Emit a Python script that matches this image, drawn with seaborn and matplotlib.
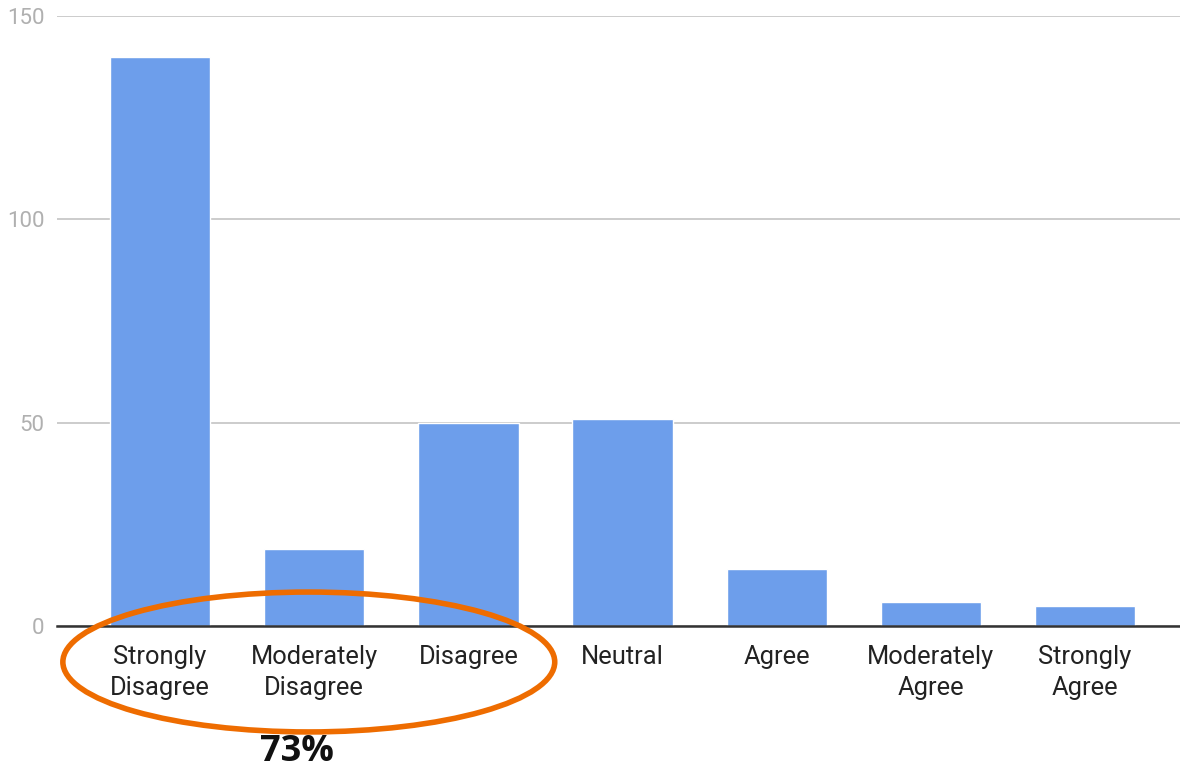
import matplotlib
matplotlib.use("Agg")
import matplotlib.pyplot as plt
from matplotlib.patches import Ellipse
import seaborn as sns
import pandas as pd

categories = ["Strongly\nDisagree", "Moderately\nDisagree", "Disagree", "Neutral",
              "Agree", "Moderately\nAgree", "Strongly\nAgree"]
responses = [140, 19, 50, 51, 14, 6, 5]
y_ticks = [0, 50, 100, 150]
highlight_text = "73%"

df = pd.DataFrame({"category": categories, "count": responses})

sns.set_theme(style="white")
plt.rcParams["font.family"] = ["Roboto", "DejaVu Sans"]

fig = plt.figure(figsize=(11.8, 7.7), dpi=100)
ax = fig.add_axes([57 / 1180, 1 - 626 / 770, 1 - 57 / 1180, (626 - 16) / 770])

sns.barplot(data=df, x="category", y="count", color="#6D9EEB", saturation=1,
            width=0.65, ax=ax, zorder=3)

ax.set_ylim(0, 150)
ax.set_xlim(-0.668, 6.615)
ax.set_yticks(y_ticks)
ax.set_xlabel("")
ax.set_ylabel("")
ax.yaxis.grid(True, color="#cccccc", linewidth=1.4, zorder=0)
ax.set_axisbelow(True)
for side in ["top", "right", "left"]:
    ax.spines[side].set_visible(False)
ax.spines["bottom"].set_color("#333333")
ax.spines["bottom"].set_linewidth(1.8)
ax.spines["bottom"].set_zorder(4)

ax.tick_params(axis="y", length=0, pad=9, labelsize=16, labelcolor="#b0b0b0")
ax.tick_params(axis="x", length=0, pad=14, labelsize=18.4, labelcolor="#222222")
for lbl in ax.get_xticklabels():
    lbl.set_linespacing(1.33)

# orange ring around the disagree responses
ring = Ellipse((0.965, -8.85), width=3.19, height=34.4, fill=False,
               edgecolor="#EE6C00", linewidth=4, clip_on=False, zorder=5)
ax.add_patch(ring)

ax.text(0.885, -31.0, highlight_text, ha="center", va="center", fontsize=26,
        fontweight="bold", color="#111111", family=["Open Sans", "DejaVu Sans"],
        clip_on=False)

fig.savefig("out.png", dpi=100, facecolor="white")
